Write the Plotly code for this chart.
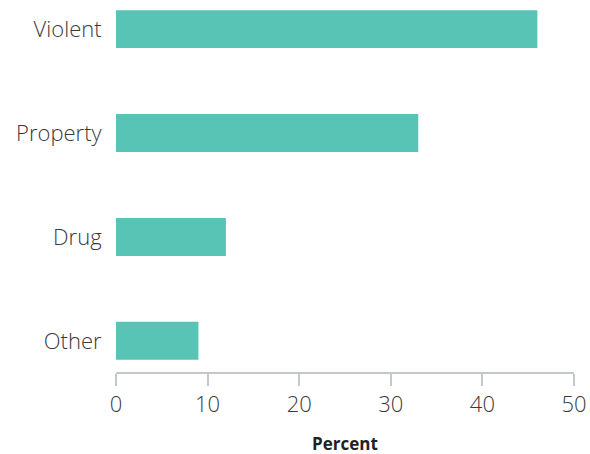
import plotly.graph_objects as go

categories = ["Violent", "Property", "Drug", "Other"]
percent = [46, 33, 12, 9]
x_ticks = [0, 10, 20, 30, 40, 50]
x_title = "Percent"

fig = go.Figure(go.Bar(
    x=percent, y=categories, orientation="h",
    marker=dict(color="#57c4b5", line=dict(width=0)),
    width=0.365,
))

lbl_font = dict(size=22, color="#3a3a3a", family="Open Sans", weight=300)

fig.update_layout(
    width=590, height=454,
    margin=dict(l=116, r=16, t=0, b=82),
    plot_bgcolor="white", paper_bgcolor="white",
    font=lbl_font,
    showlegend=False,
    annotations=[dict(
        text=x_title, xref="paper", yref="paper", x=0.5, y=-0.1909,
        xanchor="center", yanchor="middle", showarrow=False, borderpad=0,
        font=dict(size=17, color="#222222", family="Open Sans", weight=700),
    )],
)
fig.update_xaxes(
    range=[0, 50], tickvals=x_ticks, showgrid=False, zeroline=False,
    showline=True, linecolor="#c4c8cc", linewidth=1.5,
    ticks="outside", ticklen=12, tickcolor="#c4c8cc", tickwidth=1.5,
    tickfont=lbl_font, automargin=False,
)
fig.update_yaxes(
    categoryorder="array", categoryarray=categories,
    range=[3.3, -0.28], showgrid=False, zeroline=False, showline=False,
    ticks="outside", ticklen=9, tickcolor="rgba(0,0,0,0)",
    tickfont=lbl_font, automargin=False,
)

fig.write_html(
    "out.html",
    config={"displayModeBar": False},
    post_script="document.body.style.margin='0';document.body.style.overflow='hidden';",
)
